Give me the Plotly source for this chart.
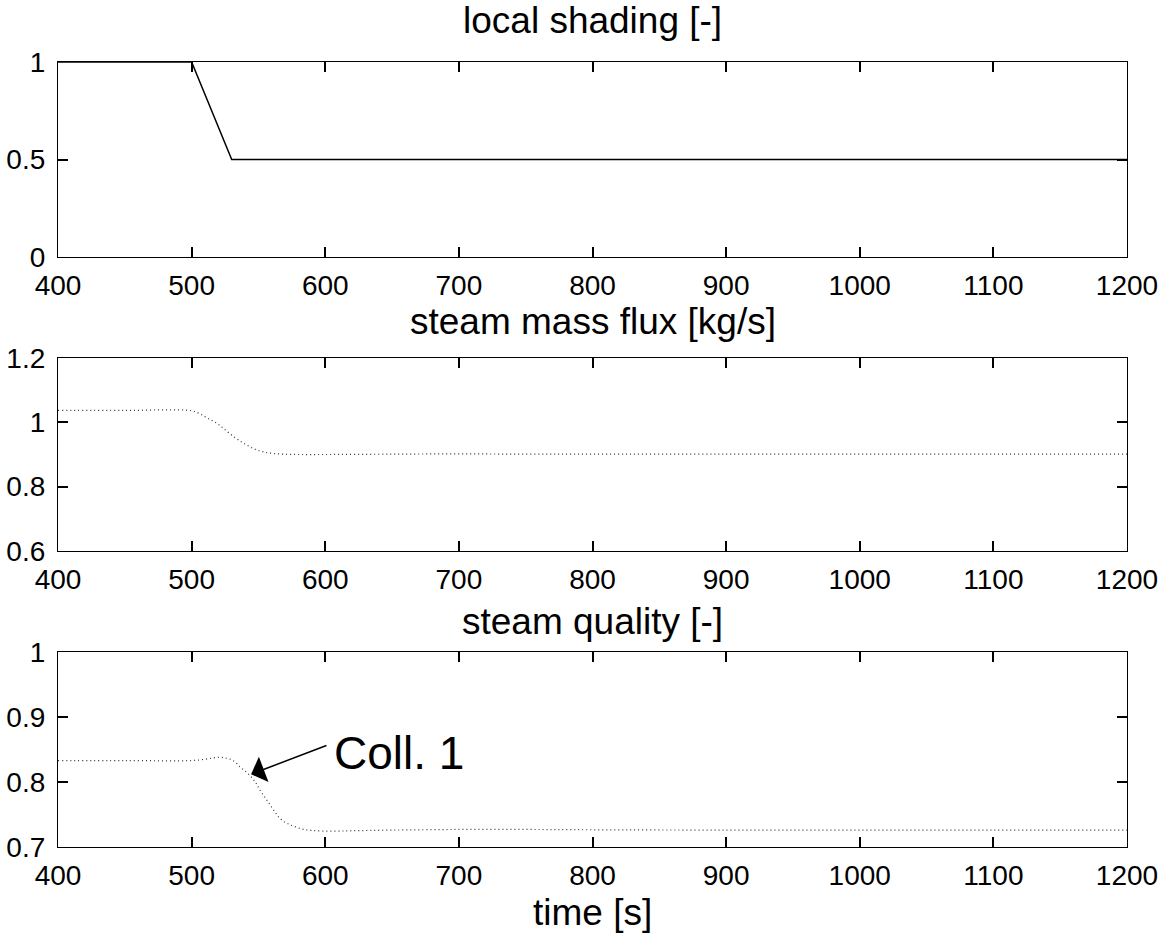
import plotly.graph_objects as go
from plotly.subplots import make_subplots

# --- data -------------------------------------------------------------
shading_t = [400, 500, 530, 1200]
shading = [1.0, 1.0, 0.5, 0.5]

flux_t = [400, 450, 500, 506, 512, 519, 525, 531, 537, 541, 545, 549, 553,
          556, 562, 569, 581, 600, 650, 700, 750, 800, 900, 1000, 1100, 1200]
flux = [1.037, 1.037, 1.036, 1.027, 1.013, 0.997, 0.977, 0.957, 0.940, 0.930,
        0.921, 0.914, 0.909, 0.906, 0.903, 0.901, 0.900, 0.900, 0.901, 0.902,
        0.901, 0.901, 0.901, 0.901, 0.901, 0.901]

quality_t = [400, 450, 500, 510, 516, 521, 525, 529, 533, 536, 540, 544, 548,
             551, 555, 559, 563, 566, 570, 574, 579, 584, 590, 599, 610, 620,
             650, 700, 750, 800, 900, 1000, 1100, 1200]
quality = [0.833, 0.833, 0.833, 0.835, 0.837, 0.838, 0.837, 0.835, 0.830,
           0.8235, 0.817, 0.809, 0.799, 0.788, 0.776, 0.764, 0.752, 0.744,
           0.738, 0.734, 0.730, 0.727, 0.7255, 0.7245, 0.7245, 0.725, 0.726,
           0.727, 0.727, 0.7265, 0.726, 0.726, 0.726, 0.726]

x_ticks = [400, 500, 600, 700, 800, 900, 1000, 1100, 1200]
panel_titles = ["local shading [-]", "steam mass flux [kg/s]", "steam quality [-]"]
y_ranges = [[0, 1], [0.6, 1.2], [0.7, 1.0]]
y_ticks = [[0, 0.5, 1], [0.6, 0.8, 1.0, 1.2], [0.7, 0.8, 0.9, 1.0]]
y_ticktext = [["0", "0.5", "1"], ["0.6", "0.8", "1", "1.2"], ["0.7", "0.8", "0.9", "1"]]
x_label = "time [s]"
callout = "Coll. 1"

FONT = "Liberation Sans, Arial, sans-serif"

fig = make_subplots(rows=3, cols=1)

fig.add_trace(go.Scatter(x=shading_t, y=shading, mode="lines",
                         line=dict(color="black", width=1.5)), row=1, col=1)
fig.add_trace(go.Scatter(x=flux_t, y=flux, mode="lines", line_shape="spline",
                         line=dict(color="#333333", width=1.2, dash="1px,3px")),
              row=2, col=1)
fig.add_trace(go.Scatter(x=quality_t, y=quality, mode="lines", line_shape="spline",
                         line=dict(color="#333333", width=1.2, dash="1px,3px")),
              row=3, col=1)

# figure pixel geometry
W, H = 1163, 935
ml, mr, mt, mb = 58, 36, 62, 88
ph = H - mt - mb
panels_px = [(62, 257), (358, 551), (652, 847)]


def py(ypix):
    return (H - mb - ypix) / ph


axis_common = dict(showline=True, linecolor="black", linewidth=1.3, mirror="allticks",
                   ticks="inside", ticklen=10, tickwidth=1.5, tickcolor="black",
                   showgrid=False, zeroline=False, automargin=False,
                   tickfont=dict(family=FONT, size=28, color="black"))

for i in range(3):
    top, bot = panels_px[i]
    n = "" if i == 0 else str(i + 1)
    fig.layout["yaxis" + n].update(domain=[py(bot), py(top)], range=y_ranges[i],
                                   tickvals=y_ticks[i], ticktext=y_ticktext[i],
                                   ticklabelstandoff=6, **axis_common)
    fig.layout["xaxis" + n].update(range=[400, 1200], tickvals=x_ticks,
                                   ticklabelstandoff=3, **axis_common)

title_centers = [20, 321, 621]
annotations = []
for txt, yc in zip(panel_titles, title_centers):
    annotations.append(dict(text=txt, xref="paper", yref="paper", x=0.5, y=py(yc),
                            xanchor="center", yanchor="middle", showarrow=False,
                            font=dict(family=FONT, size=37, color="black")))
annotations.append(dict(text=x_label, xref="paper", yref="paper", x=0.5, y=py(912),
                        xanchor="center", yanchor="middle", showarrow=False,
                        font=dict(family=FONT, size=37, color="black")))
# callout arrow and its label
annotations.append(dict(text="", x=544.5, y=0.812, xref="x3", yref="y3",
                        ax=602, ay=0.857, axref="x3", ayref="y3",
                        showarrow=True, arrowhead=1, arrowsize=3, arrowwidth=1.5,
                        arrowcolor="black"))
annotations.append(dict(text=callout, x=605, y=0.8446, xref="x3", yref="y3",
                        xanchor="left", yanchor="middle", showarrow=False,
                        font=dict(family=FONT, size=46, color="black")))

fig.update_layout(width=W, height=H, margin=dict(l=ml, r=mr, t=mt, b=mb),
                  paper_bgcolor="white", plot_bgcolor="white", showlegend=False,
                  annotations=annotations)

fig.write_html("out.html")
